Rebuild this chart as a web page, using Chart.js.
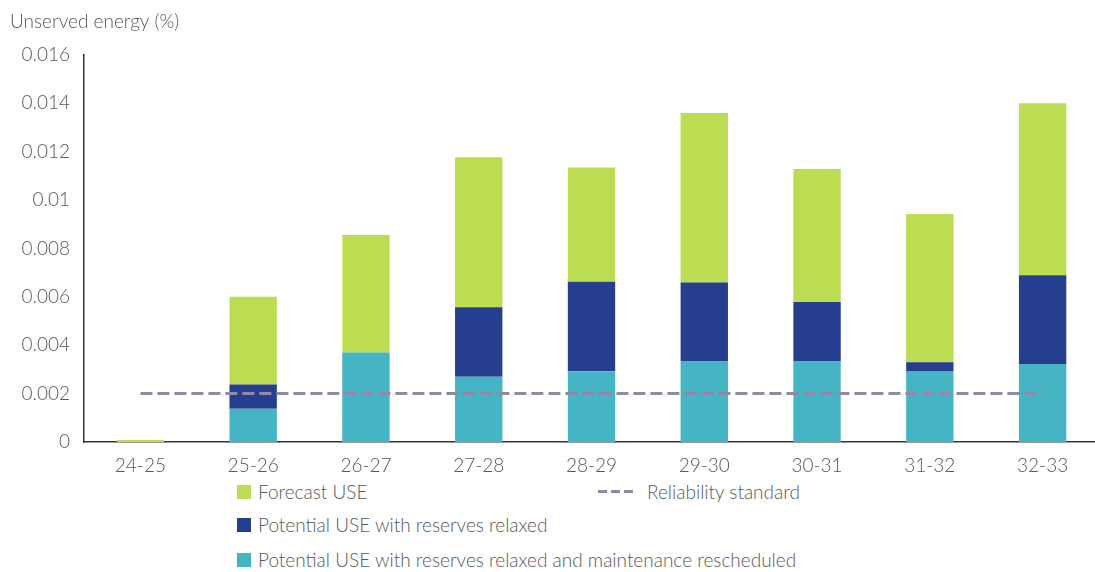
<!DOCTYPE html>
<html>
<head>
<meta charset="utf-8">
<script src="https://cdn.jsdelivr.net/npm/chart.js@4.4.1/dist/chart.umd.min.js"></script>
<style>
  html, body { margin: 0; padding: 0; background: #fff; overflow: hidden; }
  #wrap { position: absolute; left: 0; top: 0; width: 1100px; height: 480px; }
  #legend { position: absolute; left: 0; top: 0; font-family: Lato, "Noto Sans", sans-serif; font-weight: 300; font-size: 19px; color: #595959; }
  .item { position: absolute; white-space: nowrap; display: flex; align-items: center; }
  .box { width: 14px; height: 14px; margin-right: 7px; }
  .dash { width: 35px; height: 3px; margin-right: 14px; background: repeating-linear-gradient(to right, #8f8aa8 0 9px, transparent 9px 13px); }
</style>
</head>
<body>
<div id="wrap"><canvas id="useChart" width="1100" height="480"></canvas></div>
<div id="legend"></div>
<script>
const categories = ['24-25', '25-26', '26-27', '27-28', '28-29', '29-30', '30-31', '31-32', '32-33'];
// stacked segments, bottom to top
const maintenanceRescheduled = [0, 0.00137, 0.0037, 0.0027, 0.00292, 0.00333, 0.00333, 0.00293, 0.00322];
const reservesRelaxed = [0, 0.00101, 0, 0.00287, 0.0037, 0.00326, 0.00246, 0.00037, 0.00367];
const forecastUse = [0.00008, 0.00362, 0.00485, 0.0062, 0.00472, 0.00701, 0.00549, 0.00612, 0.00711];
const reliabilityStandard = [0.002, 0.002, 0.002, 0.002, 0.002, 0.002, 0.002, 0.002, 0.002];
const yTicks = [0, 0.002, 0.004, 0.006, 0.008, 0.01, 0.012, 0.014, 0.016];

const textColor = '#595959';
const font = { family: 'Lato, "Noto Sans", sans-serif', size: 19, weight: 300 };

const barOpts = { stack: 'use', barPercentage: 0.42, categoryPercentage: 1, borderWidth: 0 };

const ctx = document.getElementById('useChart');
const chart = new Chart(ctx, {
  data: {
    labels: categories,
    datasets: [
      Object.assign({ type: 'bar', label: 'Potential USE with reserves relaxed and maintenance rescheduled', data: maintenanceRescheduled, backgroundColor: '#45b5c4', order: 2 }, barOpts),
      Object.assign({ type: 'bar', label: 'Potential USE with reserves relaxed', data: reservesRelaxed, backgroundColor: '#253f8e', order: 2 }, barOpts),
      Object.assign({ type: 'bar', label: 'Forecast USE', data: forecastUse, backgroundColor: '#bcdd52', order: 2 }, barOpts),
      { type: 'line', label: 'Reliability standard', data: reliabilityStandard, borderColor: '#8f8aa8', borderWidth: 3, borderDash: [12, 5], pointRadius: 0, fill: false, order: 1 }
    ]
  },
  options: {
    responsive: false,
    animation: false,
    layout: { padding: { left: 10, right: 1, top: 0, bottom: 0 } },
    plugins: {
      legend: { display: false },
      tooltip: { enabled: false },
      title: {
        display: true,
        text: 'Unserved energy (%)',
        align: 'start',
        color: textColor,
        font: { family: font.family, size: 19, weight: 300 },
        padding: { top: 10, bottom: 22 }
      }
    },
    scales: {
      x: {
        stacked: true,
        grid: { display: false, drawTicks: false },
        border: { color: '#333', width: 1.5 },
        ticks: { color: textColor, font: font, padding: 12 },
        afterFit: s => { s.height = 38; }
      },
      y: {
        stacked: true,
        min: 0,
        max: 0.016,
        afterBuildTicks: s => { s.ticks = yTicks.map(v => ({ value: v })); },
        grid: { display: false, drawTicks: false },
        border: { color: '#333', width: 1.5 },
        ticks: { color: textColor, font: font, padding: 14, callback: v => String(parseFloat(v.toFixed(3))) },
        afterFit: s => { s.width = 74; }
      }
    }
  }
});

// html legend arranged like the original
const legendSpots = {
  'Forecast USE': [237, 492],
  'Reliability standard': [598, 492],
  'Potential USE with reserves relaxed': [237, 525],
  'Potential USE with reserves relaxed and maintenance rescheduled': [237, 560]
};
const legendEl = document.getElementById('legend');
chart.data.datasets.forEach(ds => {
  const spot = legendSpots[ds.label];
  const item = document.createElement('div');
  item.className = 'item';
  item.style.left = spot[0] + 'px';
  item.style.top = (spot[1] - 12) + 'px';
  const mark = document.createElement('span');
  if (ds.type === 'line') {
    mark.className = 'dash';
  } else {
    mark.className = 'box';
    mark.style.background = ds.backgroundColor;
  }
  item.appendChild(mark);
  item.appendChild(document.createTextNode(ds.label));
  legendEl.appendChild(item);
});
</script>
</body>
</html>
